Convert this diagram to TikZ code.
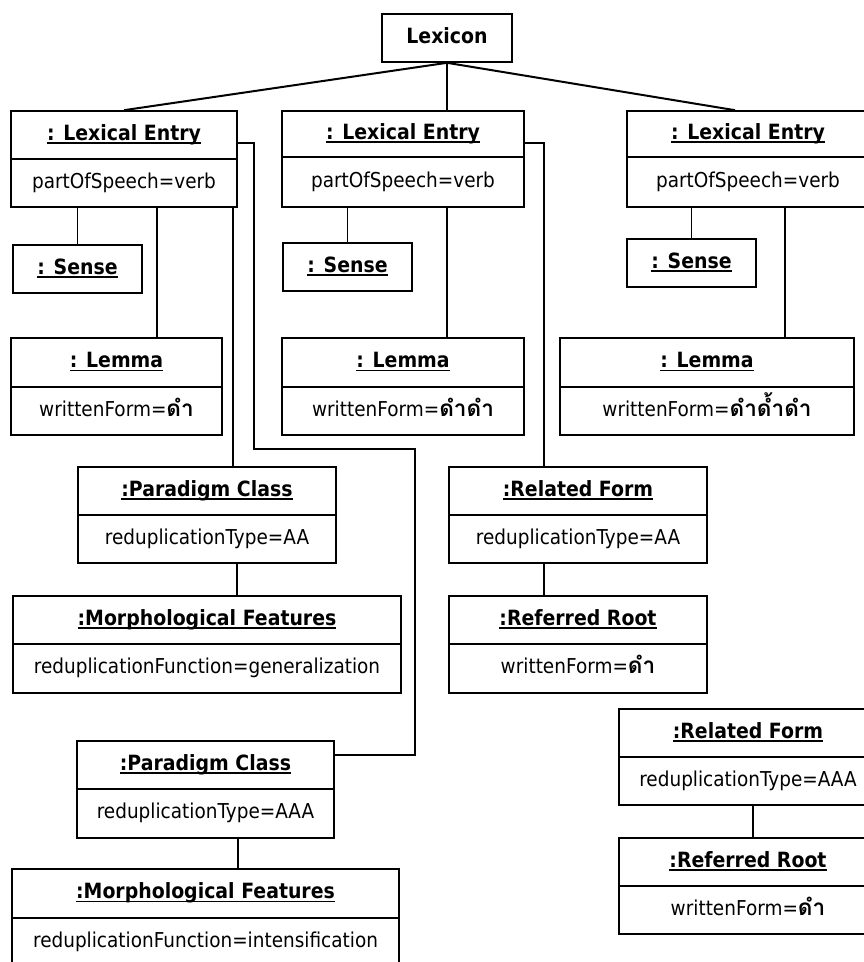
\documentclass[tikz,border=0pt]{standalone}
\usepackage{fontspec}
\setmainfont[FakeStretch=0.9]{DejaVu Sans}
\newfontfamily\thaifont[Script=Thai,Scale=1.1]{Loma}
\newcommand{\thaib}[1]{{\thaifont\bfseries #1}}
\newcommand{\ulx}[1]{\setbox0=\hbox{#1}\rlap{\rule[-3.5pt]{\wd0}{1.7pt}}\box0}
\tikzset{
  objtitle/.style={draw, line width=1.6pt, inner sep=0pt,
    font=\fontsize{21}{25}\selectfont\bfseries, text height=15pt, text depth=4.5pt},
  objattr/.style={draw, line width=1.6pt, inner sep=0pt,
    font=\fontsize{20.5}{25}\selectfont, text height=15pt, text depth=4.5pt},
  conn/.style={line width=1.3pt},
  connb/.style={line width=2pt},
}
% name, x1, x2, ytop, ydiv, ybot, title, attribute
\newcommand{\umlobj}[8]{%
  \node[objtitle, minimum width={#3-#2}, minimum height={#5-#4}] (#1)
    at ({(#2+#3)/2},{(#4+#5)/2}) {\ulx{#7}};
  \node[objattr, minimum width={#3-#2}, minimum height={#6-#5}] (#1a)
    at ({(#2+#3)/2},{(#5+#6)/2}) {#8};
}
\begin{document}
\begin{tikzpicture}[x=1pt, y=-1pt]
\fill[white] (0,0) rectangle (864,962);
\useasboundingbox (0,0) rectangle (864,962);
\clip (0,0) rectangle (864,962);

% top
\node[objtitle, minimum width=130, minimum height=48] (Lexicon) at (447,38) {Lexicon};

% lexical entries
\umlobj{LE1}{11}{237}{111}{159}{207}{: Lexical Entry}{partOfSpeech=verb}
\umlobj{LE2}{282}{524}{111}{157}{207}{: Lexical Entry}{partOfSpeech=verb}
\umlobj{LE3}{627}{869}{111}{157}{207}{: Lexical Entry}{partOfSpeech=verb}

% senses
\node[objtitle, minimum width=129, minimum height=48] (Sense1) at (77.5,269) {\ulx{: Sense}};
\node[objtitle, minimum width=129, minimum height=48] (Sense2) at (347.5,267) {\ulx{: Sense}};
\node[objtitle, minimum width=129, minimum height=48] (Sense3) at (691.5,263) {\ulx{: Sense}};

% lemmas
\umlobj{Lemma1}{11}{222}{338}{387}{435}{: Lemma}{writtenForm=\thaib{ดำ}}
\umlobj{Lemma2}{282}{524}{338}{387}{435}{: Lemma}{writtenForm=\thaib{ดำดำ}}
\umlobj{Lemma3}{560}{854}{338}{387}{435}{: Lemma}{writtenForm=\thaib{ดำด้ำดำ}}

% paradigm classes and features
\umlobj{PC1}{78}{336}{467}{515}{563}{:Paradigm Class}{reduplicationType=AA}
\umlobj{MF1}{13}{401}{596}{644}{693}{:Morphological Features}{reduplicationFunction=generalization}
\umlobj{PC2}{77}{334}{741}{789}{838}{:Paradigm Class}{reduplicationType=AAA}
\umlobj{MF2}{12}{399}{869}{918}{967}{:Morphological Features}{reduplicationFunction=intensification}

% related forms and roots
\umlobj{RF1}{449}{707}{467}{515}{563}{:Related Form}{reduplicationType=AA}
\umlobj{RR1}{449}{707}{596}{644}{693}{:Referred Root}{writtenForm=\thaib{ดำ}}
\umlobj{RF2}{619}{877}{709}{757}{805}{:Related Form}{reduplicationType=AAA}
\umlobj{RR2}{619}{877}{838}{886}{934}{:Referred Root}{writtenForm=\thaib{ดำ}}

% helper coordinates
\coordinate (k735) at (735,0);
\coordinate (k157) at (157,0);
\coordinate (k233) at (233,0);
\coordinate (k785) at (785,0);
\coordinate (k237) at (237,0);
\coordinate (k238) at (238,0);
\coordinate (k753) at (753,0);
\coordinate (s1) at (254,143);
\coordinate (s2) at (254,449);
\coordinate (s3) at (415,449);
\coordinate (s4) at (415,755);
\coordinate (t1) at (544,143);

% connectors from Lexicon
\draw[connb] (Lexicon.south) -- (LE1.north);
\draw[conn] (Lexicon.south) -- (Lexicon.south |- LE2.north);
\draw[connb] (Lexicon.south) -- (LE3.north -| k735);

% LE1
\draw[conn] (Sense1.north) -- (Sense1.north |- LE1a.south);
\draw[conn] (LE1a.south -| k157) -- (Lemma1.north -| k157);
\draw[conn] (LE1a.south -| k233) -- (PC1.north -| k233);
\draw[conn] (LE1.east |- s1) -- (s1) -- (s2) -- (s3) -- (s4) -- (PC2.east |- s4);

% LE2
\draw[conn] (Sense2.north) -- (Sense2.north |- LE2a.south);
\draw[conn] (LE2a.south -| Lexicon.south) -- (Lemma2.north -| Lexicon.south);
\draw[conn] (LE2.east |- t1) -- (t1) -- (RF1.north -| t1);

% LE3
\draw[conn] (Sense3.north) -- (Sense3.north |- LE3a.south);
\draw[conn] (LE3a.south -| k785) -- (Lemma3.north -| k785);

% lower links
\draw[connb] (PC1a.south -| k237) -- (MF1.north -| k237);
\draw[conn] (PC2a.south -| k238) -- (MF2.north -| k238);
\draw[connb] (RF1a.south -| t1) -- (RR1.north -| t1);
\draw[connb] (RF2a.south -| k753) -- (RR2.north -| k753);
\end{tikzpicture}
\end{document}
